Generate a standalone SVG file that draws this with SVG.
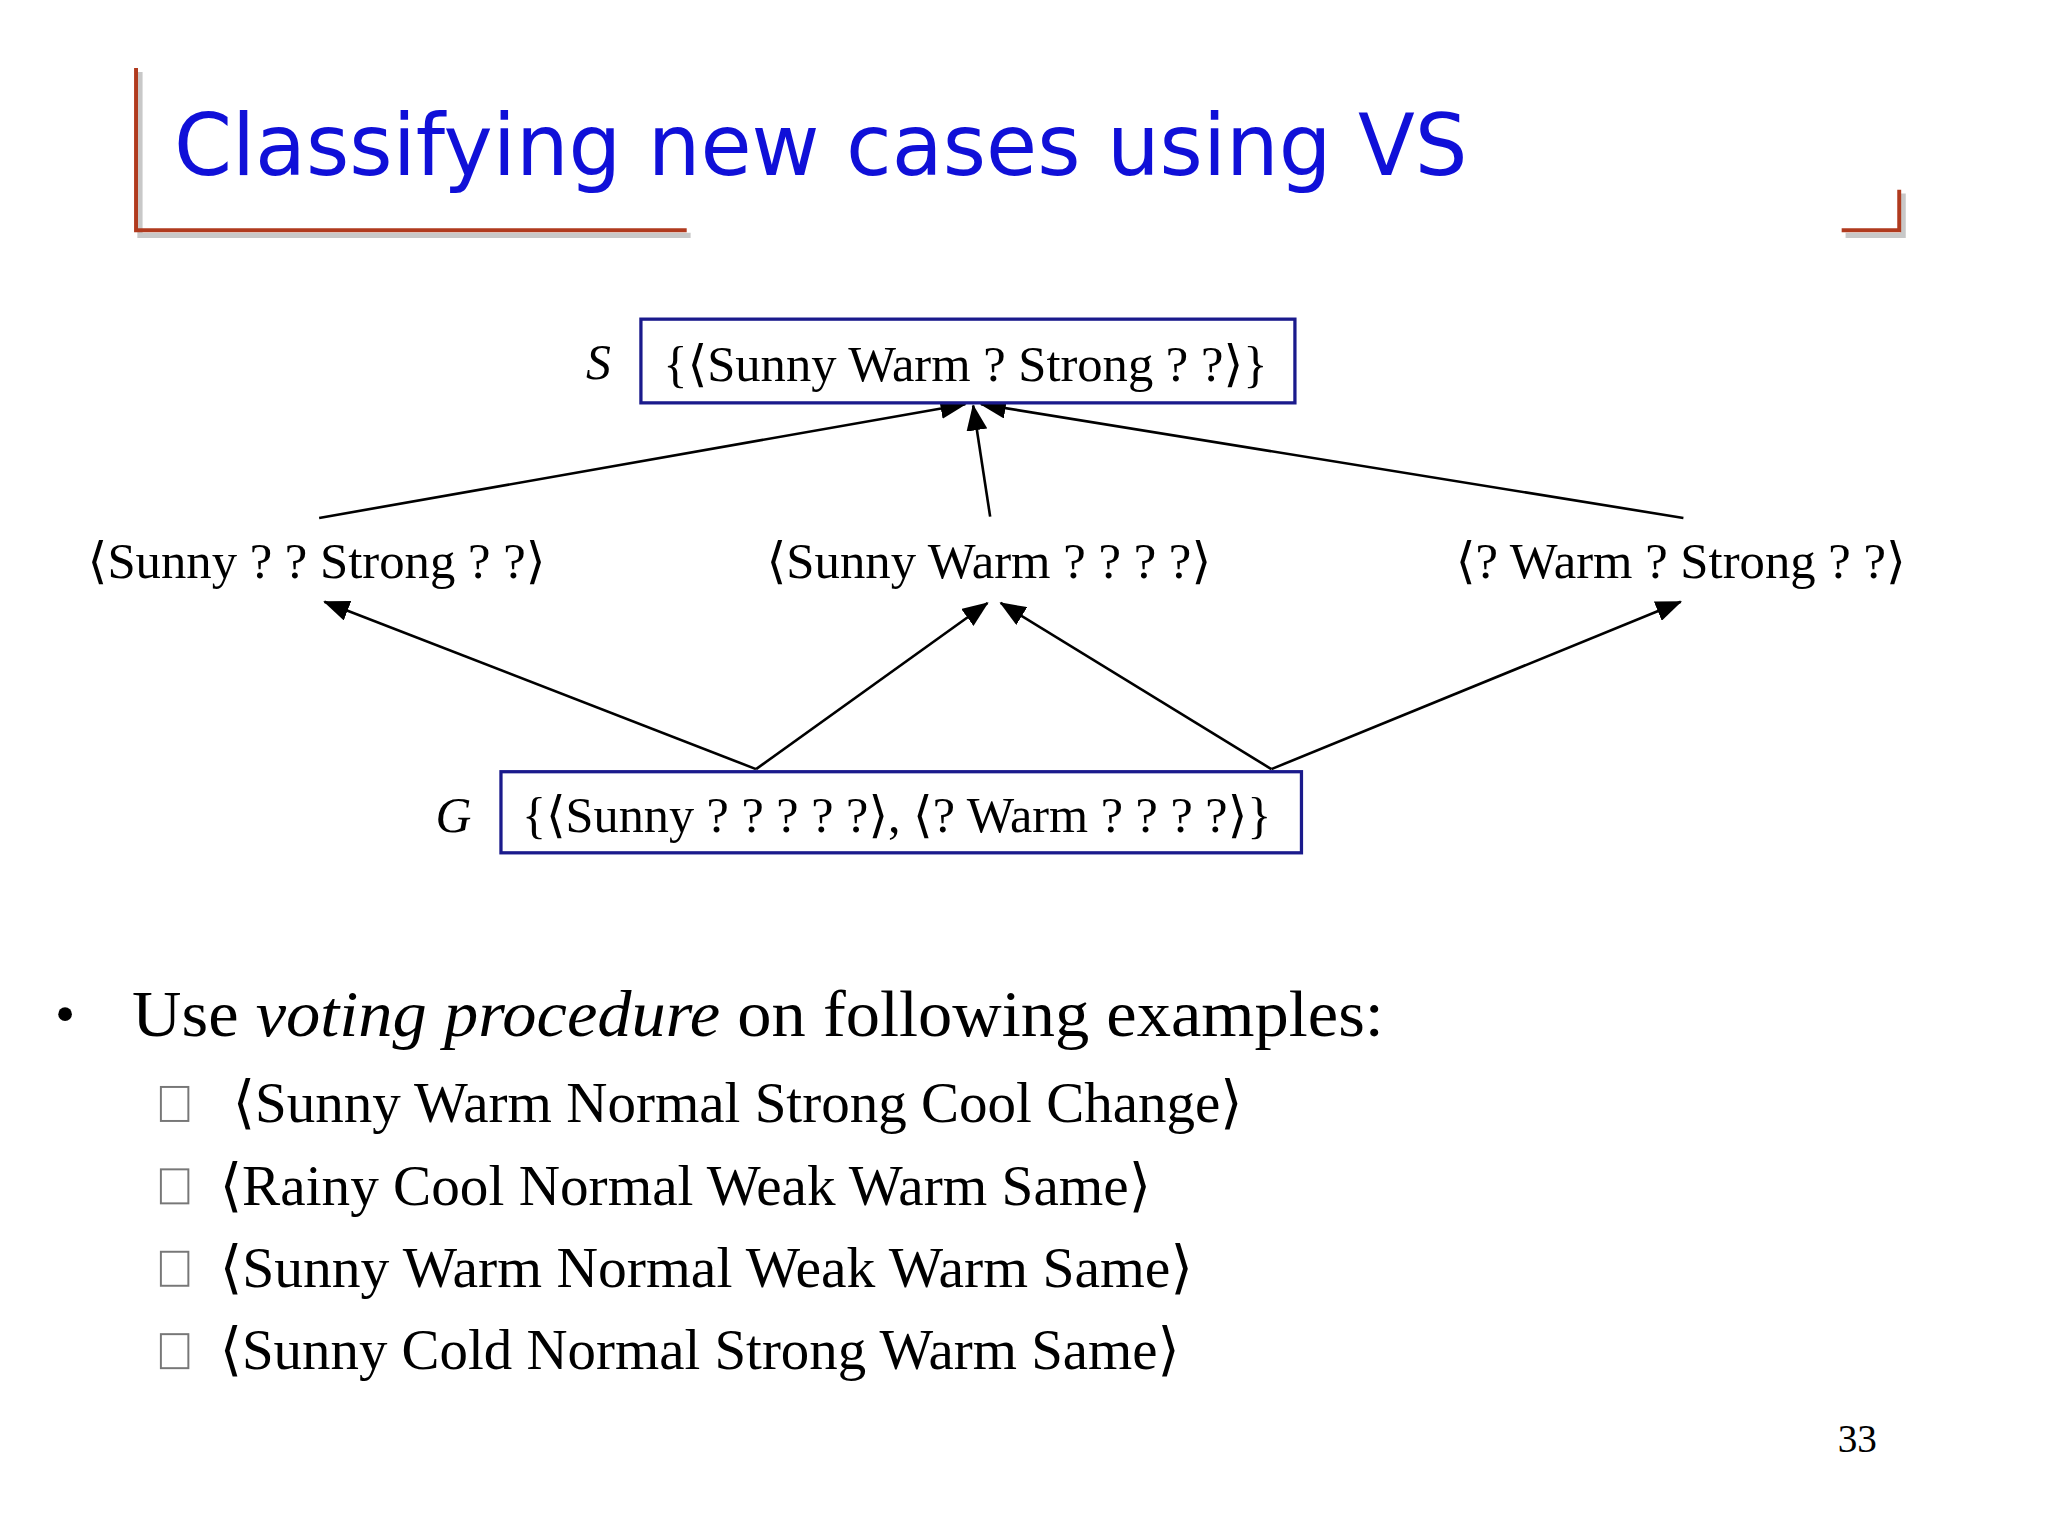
<svg xmlns="http://www.w3.org/2000/svg" width="2048" height="1536" viewBox="0 0 2048 1536">
<defs>
<style>
.t{font-family:"Liberation Serif","DejaVu Serif",serif;fill:#000}
.box{fill:#fff;stroke:#1a1a8c;stroke-width:2.5}
.e{stroke:#000;stroke-width:2;fill:none;marker-end:url(#ah)}
</style>
<marker id="ah" markerWidth="20" markerHeight="16" refX="19" refY="8" orient="auto" markerUnits="userSpaceOnUse" viewBox="0 0 20 16">
<path d="M0,0 L20,8 L0,16 z" fill="#000"/>
</marker>
</defs>
<rect width="2048" height="1536" fill="#fff"/>
<g transform="scale(1.308)">
<g id="title">
<path d="M107,55 V180 H528" stroke="#c8c8c8" stroke-width="4" fill="none"/>
<path d="M104,52 V176 H525" stroke="#b03a1e" stroke-width="3" fill="none"/>
<path d="M1455,148 V180 H1411" stroke="#c8c8c8" stroke-width="4" fill="none"/>
<path d="M1452,145 V176 H1408" stroke="#b03a1e" stroke-width="3" fill="none"/>
<text x="133" y="134" font-family="'Comic Sans MS','DejaVu Sans',sans-serif" font-size="66" fill="#1010d8" textLength="989" lengthAdjust="spacingAndGlyphs">Classifying new cases using VS</text>
</g>
<g id="connectors">
<path class="e" d="M244,396 L738,309"/>
<path class="e" d="M757,395 L744,310"/>
<path class="e" d="M1287,396 L750,309"/>
<path class="e" d="M578,588 L248,460"/>
<path class="e" d="M578,588 L755,461"/>
<path class="e" d="M972,588 L765,461"/>
<path class="e" d="M972,588 L1285,460"/>
</g>
<g id="S">
<text class="t" x="448" y="290" font-size="38" font-style="italic">S</text>
<rect class="box" x="490" y="244" width="500" height="64"/>
<text class="t" x="507" y="291" font-size="38" textLength="462" lengthAdjust="spacingAndGlyphs">{⟨Sunny Warm ? Strong ? ?⟩}</text>
</g>
<g id="n1"><text class="t" x="67" y="442" font-size="38" textLength="350" lengthAdjust="spacingAndGlyphs">⟨Sunny ? ? Strong ? ?⟩</text></g>
<g id="n2"><text class="t" x="586" y="442" font-size="38" textLength="340" lengthAdjust="spacingAndGlyphs">⟨Sunny Warm ? ? ? ?⟩</text></g>
<g id="n3"><text class="t" x="1113" y="442" font-size="38" textLength="344" lengthAdjust="spacingAndGlyphs">⟨? Warm ? Strong ? ?⟩</text></g>
<g id="G">
<text class="t" x="333" y="636" font-size="38" font-style="italic">G</text>
<rect class="box" x="383" y="590" width="612" height="62"/>
<text class="t" x="399" y="636" font-size="38" textLength="573" lengthAdjust="spacingAndGlyphs">{⟨Sunny ? ? ? ? ?⟩, ⟨? Warm ? ? ? ?⟩}</text>
</g>
<g id="bullets">
<text class="t" x="42" y="790" font-size="44">•</text>
<text class="t" x="101" y="792" font-size="50" textLength="957" lengthAdjust="spacingAndGlyphs">Use <tspan font-style="italic">voting procedure</tspan> on following examples:</text>
<g fill="none" stroke="#777" stroke-width="1.5">
<rect x="123" y="831" width="21" height="26"/>
<rect x="123" y="894" width="21" height="26"/>
<rect x="123" y="957" width="21" height="26"/>
<rect x="123" y="1020" width="21" height="26"/>
</g>
<text class="t" x="178" y="858" font-size="44" textLength="772" lengthAdjust="spacingAndGlyphs">⟨Sunny Warm Normal Strong Cool Change⟩</text>
<text class="t" x="168" y="921" font-size="44" textLength="712" lengthAdjust="spacingAndGlyphs">⟨Rainy Cool Normal Weak Warm Same⟩</text>
<text class="t" x="168" y="984" font-size="44" textLength="744" lengthAdjust="spacingAndGlyphs">⟨Sunny Warm Normal Weak Warm Same⟩</text>
<text class="t" x="168" y="1047" font-size="44" textLength="734" lengthAdjust="spacingAndGlyphs">⟨Sunny Cold Normal Strong Warm Same⟩</text>
</g>
<text class="t" x="1405" y="1110" font-size="30">33</text>
</g>
</svg>
